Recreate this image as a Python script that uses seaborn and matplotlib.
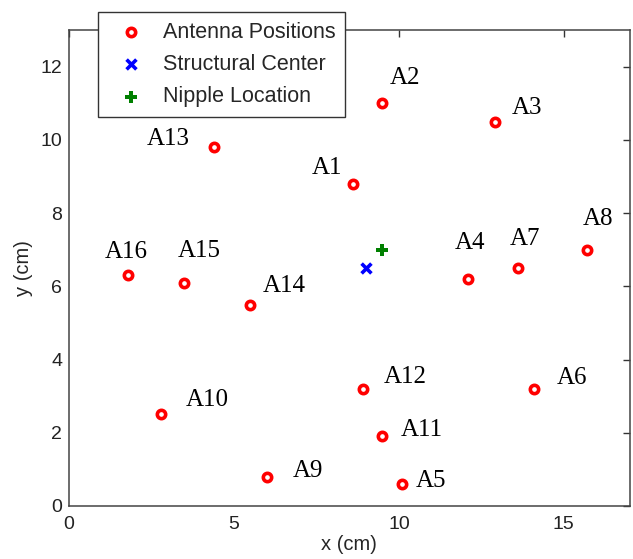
import numpy as np
import pandas as pd
import matplotlib
matplotlib.use("Agg")
import matplotlib.pyplot as plt
import seaborn as sns

# -------------------------------------------------------
# Data
# -------------------------------------------------------

names = ["A1", "A2", "A3", "A4", "A5", "A6", "A7", "A8",
         "A9", "A10", "A11", "A12", "A13", "A14", "A15", "A16"]
ant_x = [8.6, 9.5, 12.9, 12.1, 10.1, 14.1, 13.6, 15.7,
         6.0, 2.8, 9.5, 8.9, 4.4, 5.5, 3.5, 1.8]
ant_y = [8.8, 11.0, 10.5, 6.2, 0.6, 3.2, 6.5, 7.0,
         0.8, 2.5, 1.9, 3.2, 9.8, 5.5, 6.1, 6.3]

# label centres
lab_x = [7.82, 10.18, 13.88, 12.15, 10.97, 15.24, 13.82, 16.03,
         7.24, 4.18, 10.70, 10.20, 3.00, 6.52, 3.94, 1.73]
lab_y = [9.23, 11.70, 10.88, 7.19, 0.68, 3.50, 7.30, 7.85,
         0.96, 2.90, 2.08, 3.52, 10.03, 6.01, 6.97, 6.94]

center_x, center_y = [9.0], [6.5]
nipple_x, nipple_y = [9.5], [7.0]

ant_df = pd.DataFrame({"x": ant_x, "y": ant_y})

sns.set_style("white")
plt.rcParams["font.family"] = ["Liberation Sans", "DejaVu Sans"]

fig = plt.figure(figsize=(6.33, 5.59), dpi=100)
ax = fig.add_axes([0.109, 0.095, 0.886, 0.851])

sns.scatterplot(data=ant_df, x="x", y="y", ax=ax, marker="o", s=36,
                facecolor="white", edgecolor="red", linewidth=2.6,
                label="Antenna Positions", zorder=3)
sns.scatterplot(x=center_x, y=center_y, ax=ax, marker="x", s=50,
                color="blue", linewidth=2.6, label="Structural Center", zorder=3)
sns.scatterplot(x=nipple_x, y=nipple_y, ax=ax, marker="P", s=70,
                color="green", edgecolor="green", linewidth=0,
                label="Nipple Location", zorder=3)

for n, tx, ty in zip(names, lab_x, lab_y):
    ax.text(tx, ty, n, family=["Liberation Serif", "DejaVu Serif"],
            fontsize=18, ha="center", va="center", color="black")

ax.set_xlim(0, 17)
ax.set_ylim(0, 13)
ax.set_xticks([0, 5, 10, 15])
ax.set_yticks([0, 2, 4, 6, 8, 10, 12])
ax.tick_params(direction="in", length=5, width=1, labelsize=14,
               top=True, right=True, colors="#333333", labelcolor="#222222")
ax.tick_params(axis="x", pad=7)
ax.tick_params(axis="y", pad=5)
ax.set_xlabel("x (cm)", fontsize=14.5, labelpad=2)
ax.set_ylabel("y (cm)", fontsize=14.5, labelpad=5)

for sp in ax.spines.values():
    sp.set_color("#444444")
    sp.set_linewidth(1.1)

leg = ax.legend(loc="upper left", bbox_to_anchor=(98 / 633, 1 - 12 / 559),
                bbox_transform=fig.transFigure, fontsize=15.5,
                frameon=True, fancybox=False, edgecolor="#333333",
                framealpha=1, borderpad=0.46, labelspacing=0.52,
                handlelength=2.1, handletextpad=0.45, borderaxespad=0)
leg.get_frame().set_linewidth(1.0)
leg.set_zorder(5)

fig.savefig("out.png", dpi=100)
plt.close(fig)
